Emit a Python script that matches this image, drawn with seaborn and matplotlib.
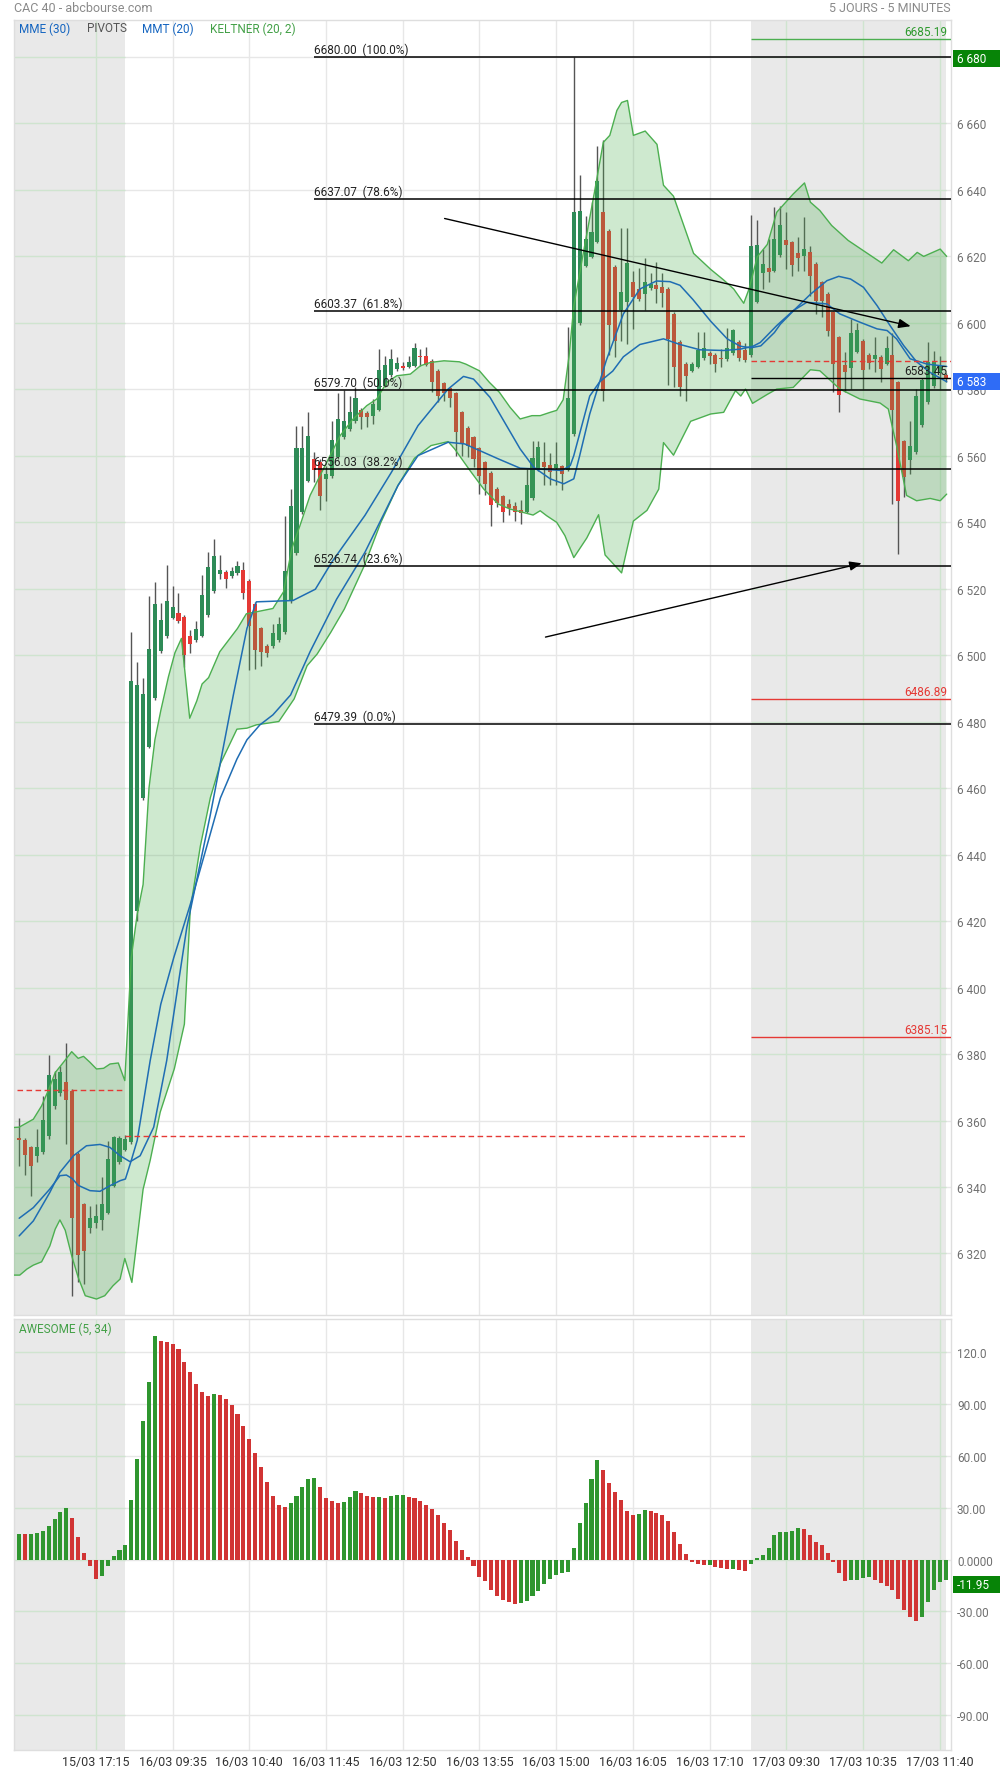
import matplotlib
matplotlib.use("Agg")
import matplotlib.pyplot as plt
from matplotlib.patches import Rectangle
from matplotlib.transforms import blended_transform_factory
import numpy as np
import seaborn as sns

sns.set_theme(style="white")
plt.rcParams["font.family"] = ["Roboto", "DejaVu Sans"]

# ---------------------------------------------------------------- data
tick_bars = [13, 26, 39, 52, 65, 78, 91, 104, 117, 130, 143, 156]
tick_labels = ["15/03 17:15", "16/03 09:35", "16/03 10:40", "16/03 11:45",
               "16/03 12:50", "16/03 13:55", "16/03 15:00", "16/03 16:05",
               "16/03 17:10", "17/03 09:30", "17/03 10:35", "17/03 11:40"]

opens = [6354.6, 6354.0, 6351.9, 6349.2, 6350.4, 6355.2, 6364.4, 6368.3, 6371.5, 6368.8,
         6349.9, 6334.8, 6327.8, 6329.3, 6330.1, 6332.3, 6340.4, 6347.6, 6351.2, 6353.5,
         6422.9, 6457.1, 6472.4, 6487.2, 6501.2, 6505.7, 6511.2, 6512.7, 6511.5, 6505.7,
         6504.4, 6505.8, 6512.1, 6519.2, 6524.3, 6525.0, 6523.7, 6524.6, 6525.5, 6522.3,
         6515.4, 6508.0, 6502.8, 6502.6, 6504.6, 6506.8, 6516.3, 6530.6, 6542.9, 6552.4,
         6559.0, 6558.2, 6553.0, 6553.8, 6559.5, 6565.5, 6568.0, 6570.3, 6573.8, 6572.8,
         6572.0, 6573.8, 6581.0, 6584.2, 6586.0, 6587.0, 6586.7, 6587.0, 6590.0, 6589.9,
         6588.5, 6585.5, 6581.7, 6580.2, 6578.7, 6573.0, 6568.3, 6565.5, 6562.2, 6558.0,
         6554.8, 6549.9, 6547.7, 6545.4, 6544.7, 6543.7, 6543.1, 6547.1, 6556.0, 6558.0,
         6557.3, 6556.3, 6556.8, 6555.8, 6566.6, 6599.9, 6617.1, 6619.8, 6624.3, 6633.2,
         6627.5, 6616.8, 6603.9, 6606.3, 6612.3, 6610.1, 6608.5, 6610.3, 6611.2, 6610.6,
         6610.1, 6602.6, 6594.3, 6587.5, 6585.4, 6586.7, 6589.2, 6590.7, 6590.2, 6589.2,
         6588.9, 6590.8, 6594.2, 6591.8, 6590.2, 6606.3, 6614.9, 6616.3, 6615.6, 6620.3,
         6624.9, 6624.1, 6620.9, 6620.1, 6621.2, 6617.6, 6612.1, 6608.6, 6603.1, 6595.6,
         6587.1, 6586.2, 6591.2, 6594.6, 6590.3, 6588.9, 6589.6, 6587.6, 6590.3, 6582.0,
         6564.3, 6558.8, 6561.0, 6569.2, 6576.0, 6580.8, 6584.8, 6584.2]

highs = [6360.7, 6354.6, 6352.2, 6357.4, 6367.4, 6379.7, 6374.8, 6376.4, 6383.3, 6369.5,
         6350.5, 6335.2, 6334.3, 6334.9, 6343.1, 6353.8, 6355.4, 6355.3, 6355.5, 6506.8,
         6497.8, 6493.0, 6517.9, 6522.1, 6515.6, 6527.2, 6520.8, 6518.6, 6512.0, 6507.4,
         6510.2, 6524.0, 6531.0, 6534.8, 6530.1, 6525.5, 6526.6, 6528.2, 6527.9, 6522.8,
         6516.0, 6508.5, 6503.2, 6509.3, 6511.3, 6541.9, 6549.9, 6569.0, 6568.8, 6573.0,
         6561.0, 6559.0, 6557.0, 6570.4, 6578.8, 6579.8, 6578.0, 6580.5, 6574.3, 6573.3,
         6577.0, 6592.1, 6589.9, 6592.1, 6589.5, 6588.0, 6590.0, 6593.9, 6592.0, 6592.6,
         6589.0, 6586.0, 6582.2, 6580.7, 6579.2, 6573.5, 6568.8, 6566.0, 6562.7, 6558.5,
         6555.3, 6550.4, 6548.2, 6547.0, 6546.0, 6546.5, 6556.0, 6564.5, 6564.3, 6564.0,
         6560.8, 6564.0, 6557.3, 6598.7, 6680.0, 6644.5, 6631.9, 6636.4, 6653.1, 6655.0,
         6628.0, 6617.3, 6628.4, 6628.4, 6615.5, 6616.5, 6619.5, 6615.0, 6618.2, 6615.0,
         6610.6, 6603.1, 6594.8, 6588.0, 6588.0, 6597.2, 6597.2, 6591.5, 6590.7, 6592.0,
         6598.3, 6598.0, 6594.7, 6594.0, 6632.3, 6630.7, 6622.1, 6625.0, 6634.7, 6635.2,
         6633.2, 6624.6, 6625.7, 6631.7, 6623.1, 6618.1, 6612.6, 6609.1, 6603.6, 6596.1,
         6591.0, 6601.1, 6600.0, 6595.1, 6590.8, 6595.6, 6590.1, 6596.1, 6597.0, 6582.5,
         6564.8, 6570.5, 6580.0, 6583.3, 6594.1, 6591.5, 6590.0, 6584.7]

lows = [6346.4, 6343.7, 6337.3, 6347.4, 6349.8, 6354.5, 6363.5, 6367.5, 6353.0, 6307.3,
        6311.3, 6310.8, 6326.3, 6327.6, 6327.1, 6331.8, 6340.0, 6347.0, 6350.8, 6353.0,
        6420.0, 6456.5, 6472.0, 6486.5, 6500.5, 6505.0, 6510.8, 6509.5, 6496.4, 6500.7,
        6503.8, 6505.3, 6511.5, 6518.8, 6522.8, 6520.1, 6523.2, 6524.2, 6517.0, 6495.5,
        6495.8, 6496.8, 6499.3, 6502.0, 6504.0, 6506.2, 6515.8, 6530.0, 6542.3, 6552.0,
        6552.0, 6543.7, 6546.4, 6553.3, 6559.0, 6565.0, 6567.5, 6569.8, 6568.0, 6568.5,
        6569.5, 6573.3, 6580.5, 6583.7, 6585.5, 6585.8, 6586.2, 6586.5, 6587.0, 6587.0,
        6579.0, 6576.0, 6576.5, 6574.5, 6560.0, 6560.0, 6559.5, 6556.5, 6548.4, 6548.0,
        6538.7, 6544.5, 6539.9, 6542.0, 6540.4, 6539.4, 6542.6, 6546.6, 6555.5, 6551.0,
        6551.0, 6551.0, 6549.7, 6555.3, 6566.0, 6599.4, 6616.6, 6619.3, 6623.8, 6576.3,
        6590.2, 6589.7, 6594.5, 6593.4, 6598.0, 6606.6, 6603.7, 6609.8, 6605.8, 6604.7,
        6581.3, 6580.6, 6577.9, 6576.3, 6585.0, 6586.2, 6588.7, 6587.5, 6585.2, 6586.5,
        6588.4, 6590.3, 6588.5, 6588.0, 6589.7, 6605.8, 6610.0, 6612.1, 6615.1, 6619.8,
        6616.1, 6613.9, 6615.6, 6615.6, 6608.1, 6602.6, 6601.6, 6596.0, 6579.0, 6573.0,
        6579.0, 6580.0, 6590.7, 6580.0, 6586.0, 6585.0, 6582.2, 6587.1, 6545.5, 6530.4,
        6547.4, 6554.3, 6560.5, 6568.7, 6575.5, 6580.3, 6580.0, 6582.0]

closes = [6354.2, 6349.7, 6346.4, 6351.9, 6360.1, 6373.6, 6372.4, 6374.5, 6366.2, 6330.8,
          6319.6, 6320.8, 6330.8, 6331.2, 6334.8, 6348.4, 6354.9, 6354.7, 6354.4, 6492.3,
          6491.1, 6488.2, 6501.9, 6515.4, 6510.6, 6516.3, 6514.5, 6510.2, 6500.0, 6503.3,
          6507.7, 6518.2, 6526.6, 6529.8, 6525.5, 6522.8, 6525.2, 6526.9, 6518.8, 6508.7,
          6501.5, 6501.0, 6500.6, 6506.5, 6509.3, 6525.4, 6544.9, 6562.2, 6562.2, 6565.8,
          6555.8, 6547.7, 6554.5, 6564.8, 6571.0, 6570.3, 6573.0, 6577.3, 6571.5, 6571.5,
          6575.5, 6585.8, 6587.2, 6589.0, 6587.7, 6586.3, 6588.2, 6592.3, 6589.7, 6587.2,
          6582.2, 6577.8, 6578.8, 6577.3, 6567.0, 6563.5, 6563.0, 6559.0, 6553.8, 6551.5,
          6545.1, 6545.7, 6542.9, 6544.1, 6542.9, 6542.7, 6551.1, 6559.2, 6562.5, 6556.5,
          6555.0, 6557.4, 6554.3, 6577.2, 6633.4, 6633.7, 6625.1, 6627.3, 6642.6, 6579.5,
          6599.3, 6594.5, 6609.2, 6617.8, 6607.7, 6607.1, 6612.3, 6611.6, 6610.1, 6609.0,
          6595.1, 6586.5, 6580.6, 6583.8, 6587.5, 6591.8, 6592.3, 6589.9, 6587.5, 6589.0,
          6592.4, 6597.7, 6589.2, 6588.6, 6623.0, 6623.2, 6617.6, 6615.3, 6625.1, 6629.4,
          6623.4, 6617.3, 6619.3, 6622.1, 6614.1, 6606.6, 6606.6, 6597.6, 6587.5, 6578.2,
          6585.2, 6596.9, 6597.8, 6585.8, 6587.8, 6590.3, 6585.9, 6592.3, 6573.8, 6546.4,
          6553.5, 6563.0, 6577.8, 6582.8, 6588.1, 6588.1, 6586.8, 6583.45]

# Keltner (20, 2) envelope, read as (bar, price) vertices
kelt_up_bar = [-0.9, 0, 1, 2.4, 3.8, 4.9, 6.1, 7.5, 8.9, 10, 10.9, 12, 13.1, 14.3, 15.4,
               16.8, 17.9, 19, 20, 21, 22, 23, 24, 25.3, 26.4, 27.5, 28.9, 30.1, 31, 32.1,
               34, 37, 38.5, 40.2, 43, 44.8, 46.2, 47.6, 49.3, 51, 52.7, 54.4, 56.6, 58.9,
               60.6, 62.3, 64, 66.3, 68, 69.7, 72, 74.6, 75.7, 78, 79.7, 81.4, 83.2, 84.9,
               86.9, 88.3, 90, 91.1, 92.2, 93.2, 94, 95.6, 97.6, 99, 100.1, 101.3, 102.1,
               103.1, 104.1, 106.1, 108.1, 109.2, 110.9, 112.6, 114.3, 117.2, 119.4, 121.1,
               122.8, 123.7, 125.1, 126.8, 128.4, 131.2, 133.1, 134.1, 135.7, 137.7, 140.5,
               143.1, 146.2, 148.2, 150.7, 152.2, 153.3, 156.1, 157.2]
kelt_up_val = [6357.9, 6358, 6359, 6360.4, 6364.4, 6368.9, 6374.4, 6377.5, 6380.7, 6378.7,
               6379.3, 6377.5, 6375.5, 6375.7, 6377, 6377.3, 6372, 6409, 6422, 6431,
               6460, 6474.5, 6483.3, 6493.5, 6500.7, 6505, 6481, 6486.2, 6491.3, 6493.2,
               6501, 6508, 6512.4, 6513, 6514, 6519, 6532, 6539, 6548, 6554,
               6560, 6566, 6571, 6575, 6577, 6582, 6584, 6584.5, 6587, 6588,
               6588.5, 6588.2, 6587.5, 6585.5, 6582, 6579, 6574.5, 6571, 6572, 6572,
               6573, 6573.6, 6576.8, 6590, 6605, 6620.8, 6640.2, 6654.2, 6656.3, 6663.8,
               6666.2, 6666.8, 6656.3, 6657.6, 6653.6, 6641.3, 6638, 6629.4, 6620.8, 6616,
               6612.8, 6610.1, 6605.8, 6610.1, 6619.8, 6623.5, 6633.2, 6638.7, 6642, 6636.2,
               6633.7, 6629.2, 6624.7, 6621.6, 6617.9, 6621.9, 6618.6, 6621.1, 6619.9, 6622.1,
               6619.9]
kelt_lo_bar = [-0.9, 0.1, 1.3, 2.4, 3.8, 5.2, 6.1, 6.9, 7.8, 8.9, 10, 11.2, 13.1, 14.5,
               15.9, 17.1, 17.9, 19.1, 21, 22.2, 23.9, 26.3, 28, 29, 30.7, 32.4, 34.1, 36.9,
               38.6, 40.2, 44, 46.6, 48.8, 50.5, 52.8, 55.1, 58.5, 61.3, 64.2, 67, 69.8,
               72.7, 73.8, 76.4, 78.7, 81.2, 83.2, 85.4, 87.1, 88.3, 89.4, 91.1, 92.5, 94,
               96.2, 98.2, 99.3, 102.1, 104.1, 106.4, 108.4, 109.2, 110.9, 113.8, 117.2,
               119.4, 121.4, 122.3, 123.1, 124.3, 126.8, 128.4, 131.2, 134.1, 135.7, 139.1,
               142.5, 145.9, 147.3, 148.7, 150.4, 152.1, 154.4, 156.1, 157.2]
kelt_lo_val = [6313.5, 6313.5, 6315.3, 6316.5, 6317.5, 6322.3, 6327.3, 6330.1, 6327, 6319.3,
               6312.8, 6307.3, 6306.3, 6307.3, 6310.3, 6312.3, 6318.5, 6311.3, 6339.3, 6348,
               6362.5, 6375.6, 6389, 6423.6, 6442.5, 6457.1, 6467.3, 6477.7, 6478, 6479,
               6480, 6486.8, 6496.8, 6500.3, 6506.8, 6513.8, 6526.9, 6539.9, 6551, 6559.2,
               6563, 6564.2, 6562, 6555.5, 6550, 6545.4, 6543.9, 6542.9, 6542.1, 6543.4,
               6541.9, 6539.9, 6535.9, 6529.3, 6535.2, 6542.2, 6530.1, 6524.7, 6540.3, 6543.5,
               6549.9, 6563.9, 6560.1, 6570.3, 6572.5, 6573, 6579.5, 6577.9, 6580, 6575.7,
               6578.4, 6580, 6580.5, 6585.8, 6585.5, 6580, 6577, 6575.8, 6574, 6563,
               6548, 6546.4, 6547.1, 6546.4, 6548.4]

# MMT (20)
mmt_bar = [0, 2.4, 5.2, 6.9, 9.2, 11.4, 13.7, 15.4, 17.1, 18.8, 20.5, 22.8, 25, 28.4, 32.4,
           36.3, 38.6, 40.2, 46.4, 50.2, 53, 58.6, 63.1, 67.6, 69.9, 72.7, 75.3, 77, 79.8,
           82.6, 84.9, 87.2, 90, 92.3, 94, 95, 96.7, 99.5, 102.4, 105.2, 108, 110.3, 112,
           114.2, 117.2, 120, 122.2, 124, 125.7, 128, 129, 131.2, 134.1, 136.9, 138.9,
           140.9, 143.1, 145.4, 147.6, 149.9, 152.1, 154.4, 157.2]
mmt_val = [6325.3, 6329.8, 6338.4, 6344.4, 6349.4, 6352.4, 6352.8, 6351.9, 6349.4, 6347.6,
           6349.4, 6358, 6378, 6418, 6452, 6488, 6508, 6516, 6516.4, 6519.8,
           6528, 6542, 6555, 6569, 6574, 6580, 6583.8, 6583, 6577.5, 6569,
           6562, 6556.5, 6553, 6551.5, 6553, 6560, 6572.5, 6588.6, 6602.6, 6610.1,
           6612.5, 6612.3, 6611.2, 6606.9, 6600.4, 6595.1, 6592.9, 6592.4, 6593, 6597,
           6599.5, 6603.5, 6608.5, 6612.6, 6613.9, 6613.1, 6610.6, 6605.1, 6599.1, 6593.1,
           6588.2, 6585, 6582.2]

# MME (30)
mme_bar = [0, 2.4, 5.2, 6.9, 8, 9, 10, 12, 13.7, 15.4, 17.1, 18, 19, 20, 22.2, 24, 26.2,
           29, 31.8, 34.1, 36.9, 38.6, 40.8, 43, 46, 49.3, 53.8, 58.6, 64.2, 67.6, 72.7,
           75.5, 81.2, 84.9, 89.4, 92, 93.4, 94, 96.7, 98.4, 100.6, 102.4, 105.2, 109.2,
           112, 115.4, 119.4, 122.2, 124.4, 125.6, 128.4, 131.2, 133.5, 136.9, 139.1,
           142.5, 145.4, 147.1, 148.7, 151, 153.9, 157.2]
mme_val = [6330.6, 6333.8, 6339.4, 6343.4, 6343.6, 6342.5, 6340.5, 6338.9, 6338.7, 6340.4,
           6341.9, 6342.4, 6348, 6354, 6378, 6395, 6409, 6425, 6442.5, 6457,
           6468.7, 6474.5, 6479, 6482, 6488, 6501, 6516.8, 6530.9, 6551, 6560,
           6564, 6563.5, 6559, 6556.2, 6555.8, 6555.5, 6557, 6560, 6577.9, 6582.2,
           6585.4, 6589.7, 6593.4, 6595.1, 6593.4, 6591.8, 6591.6, 6592, 6592.9, 6594,
           6599.1, 6603.6, 6606.1, 6605.6, 6602.6, 6600.1, 6598.1, 6597.6, 6595.1, 6589.1,
           6587.5, 6586.8]

# Awesome oscillator (5, 34)
ao_values = [15.0, 14.8, 15.0, 15.2, 16.5, 19.5, 23.5, 27.5, 30.0, 24.0,
             13.0, 4.0, -4.0, -11.0, -9.4, -4.0, 2.0, 5.5, 8.5, 34.5,
             58.0, 80.0, 103.0, 129.4, 126.5, 126.2, 125.0, 122.0, 114.5, 108.6,
             101.6, 97.0, 94.7, 95.8, 95.3, 93.0, 89.5, 84.3, 77.4, 69.9,
             61.8, 53.7, 45.0, 36.9, 31.7, 30.5, 32.8, 36.9, 42.0, 46.6,
             47.2, 42.0, 35.7, 34.0, 32.8, 33.4, 36.3, 39.7, 38.5, 36.9,
             36.3, 36.5, 35.7, 36.9, 37.4, 37.6, 36.3, 35.7, 34.0, 31.7,
             29.4, 25.9, 21.3, 17.2, 10.8, 5.6, 1.5, -3.5, -10.0, -12.5,
             -17.5, -21.0, -23.5, -24.5, -25.5, -25.3, -24.0, -21.0, -18.0, -14.0,
             -11.5, -9.0, -8.0, -7.0, 6.6, 21.3, 32.8, 46.6, 57.6, 51.8,
             44.3, 39.1, 34.5, 28.1, 25.9, 26.5, 28.6, 28.3, 26.9, 25.9,
             22.3, 15.9, 9.0, 3.2, -1.2, -2.6, -3.4, -3.2, -4.2, -5.0,
             -5.6, -5.3, -6.3, -6.8, -2.5, 1.0, 2.6, 6.6, 14.1, 15.9,
             16.1, 16.5, 18.2, 17.6, 14.1, 10.1, 8.4, 3.8, -1.5, -8.0,
             -12.3, -12.0, -11.8, -10.5, -10.4, -12.0, -13.5, -15.5, -17.5, -23.0,
             -29.5, -33.0, -35.5, -33.5, -24.5, -17.5, -13.0, -11.95]

fib_levels = [6680.00, 6637.07, 6603.37, 6579.70, 6556.03, 6526.74, 6479.39]
fib_pcts = [100.0, 78.6, 61.8, 50.0, 38.2, 23.6, 0.0]
pivot_high = 6685.19
pivot_lows = [6486.89, 6385.15]
prev_close_1503 = 6369.3
prev_close_1603 = 6355.3
prev_close_1703 = 6588.4
last_price = 6583.45
ao_last = -11.95
price_ticks = list(range(6320, 6681, 20))
ao_ticks = [-90, -60, -30, 0, 30, 60, 90, 120]
ao_tick_labels = ["-90.00", "-60.00", "-30.00", "0.0000", "30.00", "60.00", "90.00", "120.0"]
trend_down = [(72.1, 6631.3), (151.1, 6598.9)]
trend_up = [(89.2, 6505.4), (142.8, 6527.6)]

# ---------------------------------------------------------------- layout
W, H = 1000, 1774
fig = plt.figure(figsize=(W / 100, H / 100), dpi=100)


def px_box(x0, y0, x1, y1):
    return [x0 / W, 1 - y1 / H, (x1 - x0) / W, (y1 - y0) / H]


ax = fig.add_axes(px_box(14, 21, 951, 1316))
ax2 = fig.add_axes(px_box(14, 1320, 951, 1751))
XLIM = (-0.88, 157.93)
YLIM = (6301.5, 6691.0)
YLIM2 = (-110.3, 139.3)
day_spans = [(XLIM[0], 17.93), (123.95, 157.1)]

GRID = "#e7e7e7"
GRID_DAY = "#cfe4cf"
GREY_DAY = "#e9e9e9"

for a, levels, ylim in ((ax, price_ticks, YLIM), (ax2, ao_ticks, YLIM2)):
    a.set_xlim(*XLIM)
    a.set_ylim(*ylim)
    a.autoscale(False)
    for x0, x1 in day_spans:
        a.axvspan(x0, x1, color=GREY_DAY, lw=0, zorder=0)
    a.hlines(levels, XLIM[0], XLIM[1], color=GRID, lw=1, zorder=0.5)
    for x0, x1 in day_spans:
        a.hlines(levels, x0, x1, color=GRID_DAY, lw=1, zorder=0.6)
    for t in tick_bars:
        inside = any(x0 <= t <= x1 for x0, x1 in day_spans)
        a.vlines(t, ylim[0], ylim[1], color=GRID_DAY if inside else GRID, lw=1, zorder=0.6)
    for s in a.spines.values():
        s.set_color("#dedede")
        s.set_linewidth(1)

# ---------------------------------------------------------------- candles
idx = np.arange(len(opens))
o = np.array(opens)
c = np.array(closes)
up = c >= o
candle_cols = np.where(up, "#2e8b57", "#e53935")
ax.vlines(idx, lows, highs, color="#555555", lw=1, zorder=2)
ax.bar(idx, np.maximum(np.abs(c - o), 0.35), bottom=np.minimum(o, c), width=0.68,
       color=candle_cols, lw=0, zorder=2.2)

# Keltner envelope (drawn translucent over the candles)
band_x = np.concatenate([kelt_up_bar, kelt_lo_bar[::-1]])
band_y = np.concatenate([kelt_up_val, kelt_lo_val[::-1]])
ax.fill(band_x, band_y, color="#4caf50", alpha=0.27, lw=0, zorder=3)
sns.lineplot(x=kelt_up_bar, y=kelt_up_val, ax=ax, color="#4caf50", lw=1, sort=False,
             estimator=None, zorder=3.5)
sns.lineplot(x=kelt_lo_bar, y=kelt_lo_val, ax=ax, color="#4caf50", lw=1, sort=False,
             estimator=None, zorder=3.5)

# moving averages
sns.lineplot(x=mmt_bar, y=mmt_val, ax=ax, color="#1f6db3", lw=1.1, sort=False,
             estimator=None, zorder=4)
sns.lineplot(x=mme_bar, y=mme_val, ax=ax, color="#1f6db3", lw=1.1, sort=False,
             estimator=None, zorder=4)

# Fibonacci retracement
for lvl, pct in zip(fib_levels, fib_pcts):
    ax.hlines(lvl, 50, XLIM[1], color="black", lw=1.1, zorder=5)
    ax.annotate(f"{lvl:.2f}  ({pct:.1f}%)", xy=(50, lvl), xytext=(0, 1),
                textcoords="offset pixels", ha="left", va="bottom",
                fontsize=8.5, color="#222222", zorder=6)

# pivots and reference prices on the last session
right_tr = blended_transform_factory(ax.transAxes, ax.transData)
ax.hlines(pivot_high, 123.95, XLIM[1], color="#4caf50", lw=1, zorder=5)
ax.annotate(f"{pivot_high:.2f}", xy=(1, pivot_high), xycoords=right_tr, xytext=(-4, 1),
            textcoords="offset pixels", ha="right", va="bottom", fontsize=8.5,
            color="#2e9a2e", zorder=6)
for lvl in pivot_lows:
    ax.hlines(lvl, 123.95, XLIM[1], color="#e53935", lw=1, zorder=5)
    ax.annotate(f"{lvl:.2f}", xy=(1, lvl), xycoords=right_tr, xytext=(-4, 1),
                textcoords="offset pixels", ha="right", va="bottom", fontsize=8.5,
                color="#e53935", zorder=6)
ax.hlines(last_price, 123.95, XLIM[1], color="black", lw=1, zorder=5)
ax.annotate(f"{last_price:.2f}", xy=(1, last_price), xycoords=right_tr, xytext=(-4, 1),
            textcoords="offset pixels", ha="right", va="bottom", fontsize=8.5,
            color="#222222", zorder=6)

dash = (0, (4, 2.5))
ax.hlines(prev_close_1503, -0.4, 17.93, color="#e53935", lw=1, linestyles=[dash], zorder=5)
ax.hlines(prev_close_1603, 17.93, 123.3, color="#e53935", lw=1, linestyles=[dash], zorder=5)
ax.hlines(prev_close_1703, 123.95, XLIM[1], color="#e53935", lw=1, linestyles=[dash], zorder=5)

# trend arrows
for (x0, y0), (x1, y1) in (trend_down, trend_up):
    ax.annotate("", xy=(x1, y1), xytext=(x0, y0),
                arrowprops=dict(arrowstyle="-|>,head_length=0.9,head_width=0.35",
                                color="black", lw=1, shrinkA=0, shrinkB=0,
                                mutation_scale=8), zorder=6)

# ---------------------------------------------------------------- oscillator
ao = np.array(ao_values)
rising = np.concatenate([[True], np.diff(ao) > 0])
ao_cols = np.where(rising, "#2f962f", "#d13434")
ax2.bar(idx, ao, width=0.68, color=ao_cols, lw=0, zorder=2)

# ---------------------------------------------------------------- axes text
ax.yaxis.tick_right()
ax.set_yticks(price_ticks)
ax.set_yticklabels([f"{v // 1000} {v % 1000:03d}" for v in price_ticks])
ax.set_xticks(tick_bars)
ax.set_xticklabels([])
ax.tick_params(axis="both", length=0)
ax.tick_params(axis="y", pad=4.3, labelsize=8.5, labelcolor="#707070")

ax2.yaxis.tick_right()
ax2.set_yticks(ao_ticks)
ax2.set_yticklabels(ao_tick_labels)
ax2.set_xticks(tick_bars)
ax2.set_xticklabels(tick_labels)
ax2.tick_params(axis="both", length=0)
ax2.tick_params(axis="y", pad=4.3, labelsize=8.5, labelcolor="#707070")
ax2.tick_params(axis="x", pad=3.6, labelsize=9, labelcolor="#333333")
for a in (ax, ax2):
    a.set_xlabel("")
    a.set_ylabel("")


def value_box(axis, value, text, fc, shift_px):
    y0, y1 = axis.get_ylim()
    per_px = (y1 - y0) / (axis.get_position().height * H)
    tr = blended_transform_factory(fig.transFigure, axis.transData)
    centre = value - shift_px * per_px
    h = 16.7 * per_px
    axis.add_artist(Rectangle((953 / W, centre - h / 2), 47 / W, h, transform=tr,
                              facecolor=fc, edgecolor="none", clip_on=False, zorder=20))
    axis.text(957 / W, centre, text, transform=tr, ha="left", va="center",
              fontsize=8.5, color="white", clip_on=False, zorder=21)


value_box(ax, 6680, "6 680", "#078407", 1.6)
value_box(ax, last_price, "6 583", "#2f6cf6", 3.9)
value_box(ax2, ao_last, f"{ao_last:.2f}", "#078407", 4.0)

fig.text(14 / W, 1 - 8.5 / H, "CAC 40 - abcbourse.com", ha="left", va="center",
         fontsize=9, color="#8a8a8a")
fig.text(951 / W, 1 - 8.5 / H, "5 JOURS - 5 MINUTES", ha="right", va="center",
         fontsize=9, color="#8a8a8a")
legend_items = [(19, "MME (30)", "#1565c0"), (86.5, "PIVOTS", "#555555"),
                (142.5, "MMT (20)", "#1565c0"), (210, "KELTNER (20, 2)", "#43a047")]
for x, txt, col in legend_items:
    fig.text(x / W, 1 - 29 / H, txt, ha="left", va="center", fontsize=8.5, color=col)
fig.text(19 / W, 1 - 1329 / H, "AWESOME (5, 34)", ha="left", va="center",
         fontsize=8.5, color="#43a047")

fig.savefig("out.png", dpi=100, facecolor="white")
